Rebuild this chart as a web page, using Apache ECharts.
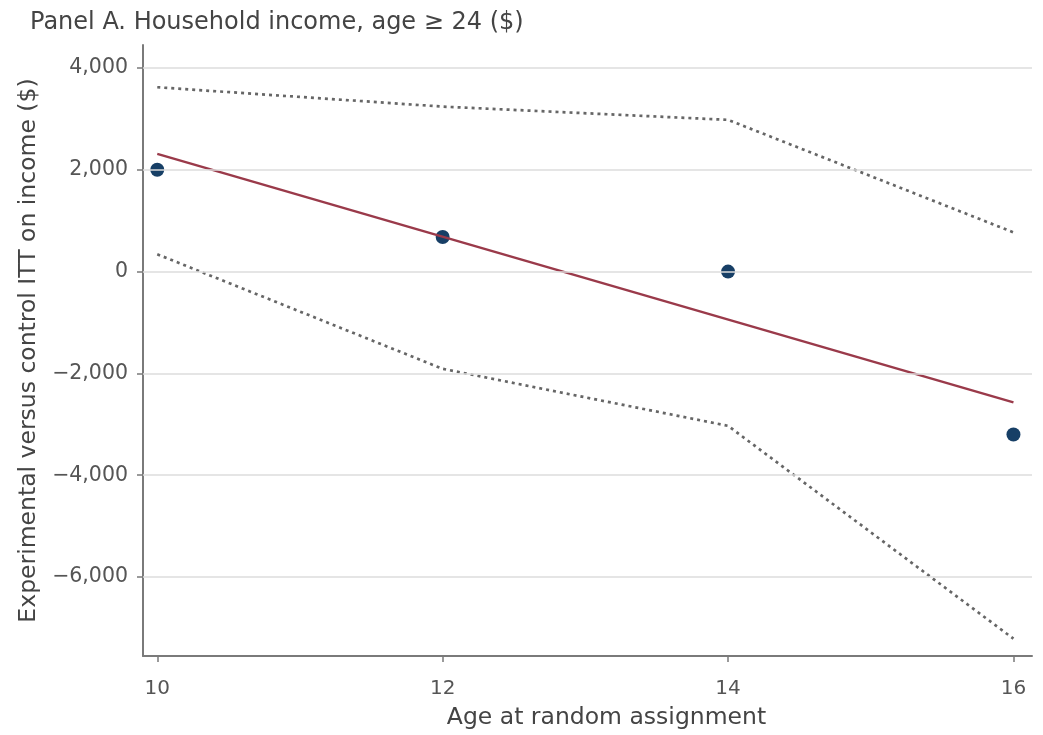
<!DOCTYPE html>
<html>
<head>
<meta charset="utf-8">
<script src="https://cdn.jsdelivr.net/npm/echarts@6/dist/echarts.min.js"></script>
<style>
html,body{margin:0;padding:0;background:#fff;}
#chart{width:1043px;height:735px;}
</style>
</head>
<body>
<div id="chart"></div>
<script>
const ages = [10, 12, 14, 16];
const pointEstimates = [2000, 680, 0, -3200];
const upperCI = [3620, 3240, 2980, 770];
const lowerCI = [340, -1910, -3030, -7210];
const fitAges = [10, 16];
const fitValues = [2310, -2570];
const yTicks = [4000, 2000, 0, -2000, -4000, -6000];
const xTicks = [10, 12, 14, 16];

const FONT = 'DejaVu Sans';
const fmt = v => {
  const s = Math.abs(v).toLocaleString('en-US');
  return v < 0 ? '\u2212' + s : s;
};
const zip = (xs, ys) => xs.map((x, i) => [x, ys[i]]);

const chart = echarts.init(document.getElementById('chart'));
chart.setOption({
  backgroundColor: '#fff',
  animation: false,
  title: {
    text: 'Panel A. Household income, age \u2265 24 ($)',
    left: 25, top: 6,
    textStyle: {fontFamily: FONT, fontSize: 24, fontWeight: 'normal', color: '#444'}
  },
  grid: {left: 143, right: 11, top: 45, bottom: 77, containLabel: false},
  xAxis: {
    type: 'value', min: 9.9, max: 16.13,
    name: 'Age at random assignment', nameLocation: 'middle', nameGap: 50,
    nameTextStyle: {fontFamily: FONT, fontSize: 23.5, color: '#444', padding: [0, 0, 0, 38]},
    axisLine: {show: true, onZero: false, lineStyle: {color: '#7a7a7a', width: 2}},
    axisTick: {show: true, customValues: xTicks, length: 6, lineStyle: {color: '#7a7a7a', width: 1.5}},
    axisLabel: {customValues: xTicks, fontFamily: FONT, fontSize: 20, color: '#555', margin: 23},
    splitLine: {show: false}
  },
  yAxis: {
    type: 'value', min: -7550, max: 4450,
    name: 'Experimental versus control ITT on income ($)', nameLocation: 'middle', nameGap: 96,
    nameTextStyle: {fontFamily: FONT, fontSize: 23.5, color: '#444', padding: [0, 0, 0, 0]},
    axisLine: {show: true, onZero: false, lineStyle: {color: '#7a7a7a', width: 2}},
    axisTick: {show: true, customValues: yTicks, length: 6, lineStyle: {color: '#7a7a7a', width: 1.5}},
    axisLabel: {customValues: yTicks, formatter: fmt, fontFamily: FONT, fontSize: 20.5, color: '#555', margin: 15},
    splitLine: {show: false}
  },
  series: [
    {
      type: 'line', data: [], silent: true,
      markLine: {
        silent: true, symbol: 'none', label: {show: false},
        lineStyle: {color: '#dcdcdc', width: 1.5, type: 'solid'},
        data: yTicks.map(v => ({yAxis: v}))
      }
    },
    {
      type: 'line', data: zip(ages, upperCI), symbol: 'none',
      lineStyle: {color: '#666', width: 2.7, type: [3, 4]}
    },
    {
      type: 'line', data: zip(ages, lowerCI), symbol: 'none',
      lineStyle: {color: '#666', width: 2.7, type: [3, 4]}
    },
    {
      type: 'line', data: zip(fitAges, fitValues), symbol: 'none',
      lineStyle: {color: '#9a3a4a', width: 2.4}
    },
    {
      type: 'scatter', data: zip(ages, pointEstimates), symbolSize: 14,
      itemStyle: {color: '#173f66', opacity: 1}
    }
  ]
});
</script>
</body>
</html>
